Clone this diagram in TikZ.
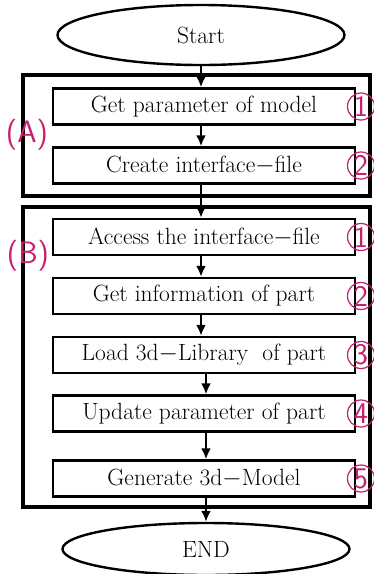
\documentclass[tikz,border=0pt]{standalone}
\usepackage{fontspec}
\usetikzlibrary{shapes.geometric,arrows.meta}
\definecolor{numred}{RGB}{200,30,110}
\tikzset{
  stepbox/.style={draw, line width=2.4pt, minimum width=302pt, minimum height=36pt, inner sep=0pt, font=\fontsize{23.5}{26}\selectfont},
  term/.style={draw, ellipse, line width=2.4pt, inner sep=0pt, font=\fontsize{23.5}{26}\selectfont},
  grpframe/.style={line width=4pt},
  num/.style={circle, draw=numred, text=numred, line width=1.2pt, minimum size=27pt, inner sep=0pt, font=\sffamily\fontsize{30}{30}\selectfont},
  grp/.style={text=numred, inner sep=0pt, font=\sffamily\fontsize{31}{32}\selectfont},
  flow/.style={line width=2.2pt, -{Latex[length=11pt,width=10pt]}}
}
\begin{document}
\begin{tikzpicture}[x=1pt, y=-1pt]
	\useasboundingbox (0,0) rectangle (374,574);
	% group frames
	\draw[grpframe] (23,75) rectangle (370,196);
	\draw[grpframe] (23,207) rectangle (370,507);
	\node[grp] (labA) at (27,135) {(A)};
	\node[grp] (labB) at (28,256) {(B)};

	% start / end
	\node[term, minimum width=287pt, minimum height=60pt] (start) at (201,35) {Start};
	\node[term, minimum width=287pt, minimum height=52pt] (finish) at (206,549) {END};

	% steps
	\node[stepbox] (a1) at (204,106.5) {Get parameter of model};
	\node[stepbox] (a2) at (204,165.5) {Create interface$-$file};
	\node[stepbox] (b1) at (204,237) {Access the interface$-$file};
	\node[stepbox] (b2) at (204,296) {Get information of part};
	\node[stepbox] (b3) at (204,355) {Load 3d$-$Library \ of part};
	\node[stepbox] (b4) at (204,413.5) {Update parameter of part};
	\node[stepbox] (b5) at (204,478.5) {Generate 3d$-$Model};

	% numbers
	\node[num] (na1) at (361,106.5) {1};
	\node[num] (na2) at (361,165.5) {2};
	\node[num] (nb1) at (361,237) {1};
	\node[num] (nb2) at (361,296) {2};
	\node[num] (nb3) at (361,355) {3};
	\node[num] (nb4) at (361,413.5) {4};
	\node[num] (nb5) at (361,478.5) {5};

	\draw[flow] (start.south) -- (start.south |- a1.north);
	\draw[flow] (a1.south -| start.south) -- (a2.north -| start.south);
	\draw[flow] (a2.south -| start.south) -- (b1.north -| start.south);
	\draw[flow] (b1.south -| start.south) -- (b2.north -| start.south);
	\draw[flow] (b2.south -| start.south) -- (b3.north -| start.south);
	\draw[flow] (b3.south -| finish.north) -- (b4.north -| finish.north);
	\draw[flow] (b4.south -| finish.north) -- (b5.north -| finish.north);
	\draw[flow] (b5.south -| finish.north) -- (finish.north);
\end{tikzpicture}
\end{document}
